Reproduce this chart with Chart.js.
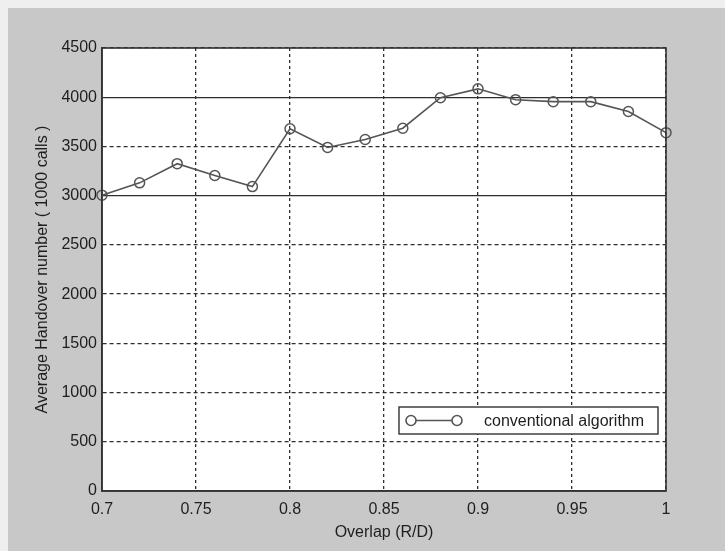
<!DOCTYPE html>
<html>
<head>
<meta charset="utf-8">
<style>
  html, body { margin: 0; padding: 0; background: #ececec; }
  #wrap { width: 725px; height: 551px; position: relative; }
</style>
<script src="https://cdn.jsdelivr.net/npm/chart.js@4/dist/chart.umd.min.js"></script>
</head>
<body>
<div id="wrap"><canvas id="c" width="725" height="551"></canvas></div>
<script>
// ---- data ----
const overlap = [0.70, 0.72, 0.74, 0.76, 0.78, 0.80, 0.82, 0.84, 0.86, 0.88, 0.90, 0.92, 0.94, 0.96, 0.98, 1.00];
const handovers = [3005, 3130, 3325, 3205, 3092, 3680, 3490, 3570, 3685, 3995, 4085, 3975, 3955, 3955, 3855, 3640];
const seriesLabel = 'conventional algorithm';
const xTickValues = [0.7, 0.75, 0.8, 0.85, 0.9, 0.95, 1];
const xTickLabels = ['0.7', '0.75', '0.8', '0.85', '0.9', '0.95', '1'];
const yTickValues = [0, 500, 1000, 1500, 2000, 2500, 3000, 3500, 4000, 4500];
const yTickLabels = ['0', '500', '1000', '1500', '2000', '2500', '3000', '3500', '4000', '4500'];
const xTitle = 'Overlap (R/D)';
const yTitle = 'Average Handover number ( 1000 calls )';
const solidGridValues = [3000, 4000];

const FONT = "'Liberation Sans', Arial, sans-serif";
const TXT = '#1e1e1e';
const LINE = '#555555';
const GRID = '#2e2e2e';

const backdrop = {
  id: 'backdrop',
  beforeDraw(chart) {
    const { ctx, chartArea: a } = chart;
    ctx.save();
    ctx.fillStyle = '#efefef';
    ctx.fillRect(0, 0, chart.width, chart.height);
    ctx.fillStyle = '#c8c8c8';
    ctx.fillRect(8, 8, chart.width - 8, chart.height - 8);
    ctx.fillStyle = '#ffffff';
    ctx.fillRect(a.left, a.top, a.right - a.left, a.bottom - a.top);
    ctx.restore();
  },
  afterDraw(chart) {
    const { ctx, chartArea: a } = chart;
    ctx.save();
    ctx.strokeStyle = '#333333';
    ctx.lineWidth = 1.6;
    ctx.strokeRect(a.left, a.top, a.right - a.left, a.bottom - a.top);
    // legend box
    const bx = 399, by = 407, bw = 259, bh = 27;
    ctx.fillStyle = '#ffffff';
    ctx.fillRect(bx, by, bw, bh);
    ctx.strokeStyle = '#333333';
    ctx.lineWidth = 1.4;
    ctx.strokeRect(bx, by, bw, bh);
    const cy = by + bh / 2;
    ctx.strokeStyle = LINE;
    ctx.lineWidth = 1.6;
    ctx.beginPath();
    ctx.moveTo(411, cy); ctx.lineTo(457, cy); ctx.stroke();
    [411, 457].forEach(cx => {
      ctx.beginPath();
      ctx.arc(cx, cy, 5, 0, Math.PI * 2);
      ctx.fillStyle = '#ffffff';
      ctx.fill();
      ctx.stroke();
    });
    ctx.fillStyle = TXT;
    ctx.font = '16px ' + FONT;
    ctx.textBaseline = 'middle';
    ctx.textAlign = 'left';
    ctx.fillText(chart.data.datasets[0].label, 484, cy + 1);
    ctx.restore();
  }
};

new Chart(document.getElementById('c'), {
  type: 'line',
  data: {
    datasets: [{
      label: seriesLabel,
      data: overlap.map((v, i) => ({ x: v, y: handovers[i] })),
      borderColor: LINE,
      borderWidth: 1.6,
      pointRadius: 5,
      pointBorderWidth: 1.5,
      pointBorderColor: LINE,
      pointBackgroundColor: 'rgba(255,255,255,0)',
      tension: 0,
      fill: false,
      clip: false
    }]
  },
  options: {
    responsive: false,
    animation: false,
    devicePixelRatio: 1,
    layout: { padding: { top: 48, right: 59, left: 0, bottom: 0 } },
    plugins: { legend: { display: false }, tooltip: { enabled: false } },
    scales: {
      x: {
        type: 'linear',
        min: 0.7, max: 1,
        afterFit(s) { s.height = 60; },
        afterBuildTicks(s) { s.ticks = xTickValues.map(v => ({ value: v })); },
        ticks: {
          padding: 9,
          color: TXT,
          font: { family: FONT, size: 16 },
          callback: (v) => { const i = xTickValues.findIndex(t => Math.abs(t - v) < 1e-9); return i >= 0 ? xTickLabels[i] : ''; },
          maxRotation: 0, autoSkip: false
        },
        grid: { color: GRID, lineWidth: 1.3, drawTicks: false },
        border: { display: true, color: '#333333', width: 1.6, dash: [3, 3] },
        title: { display: true, text: xTitle, color: TXT, font: { family: FONT, size: 16 }, padding: { top: 0, bottom: 9 } }
      },
      y: {
        type: 'linear',
        min: 0, max: 4500,
        afterFit(s) { s.width = 102; },
        afterBuildTicks(s) { s.ticks = yTickValues.map(v => ({ value: v })); },
        ticks: {
          padding: 5,
          color: TXT,
          font: { family: FONT, size: 16 },
          callback: (v) => { const i = yTickValues.indexOf(v); return i >= 0 ? yTickLabels[i] : ''; },
          autoSkip: false
        },
        grid: { color: GRID, lineWidth: 1.3, drawTicks: false },
        border: {
          display: true, color: '#333333', width: 1.6,
          dash: (ctx) => (ctx.tick && solidGridValues.includes(ctx.tick.value)) ? [] : [4, 3]
        },
        title: { display: true, text: yTitle, color: TXT, font: { family: FONT, size: 16 }, padding: { top: 33, bottom: 0 } }
      }
    }
  },
  plugins: [backdrop]
});
</script>
</body>
</html>
